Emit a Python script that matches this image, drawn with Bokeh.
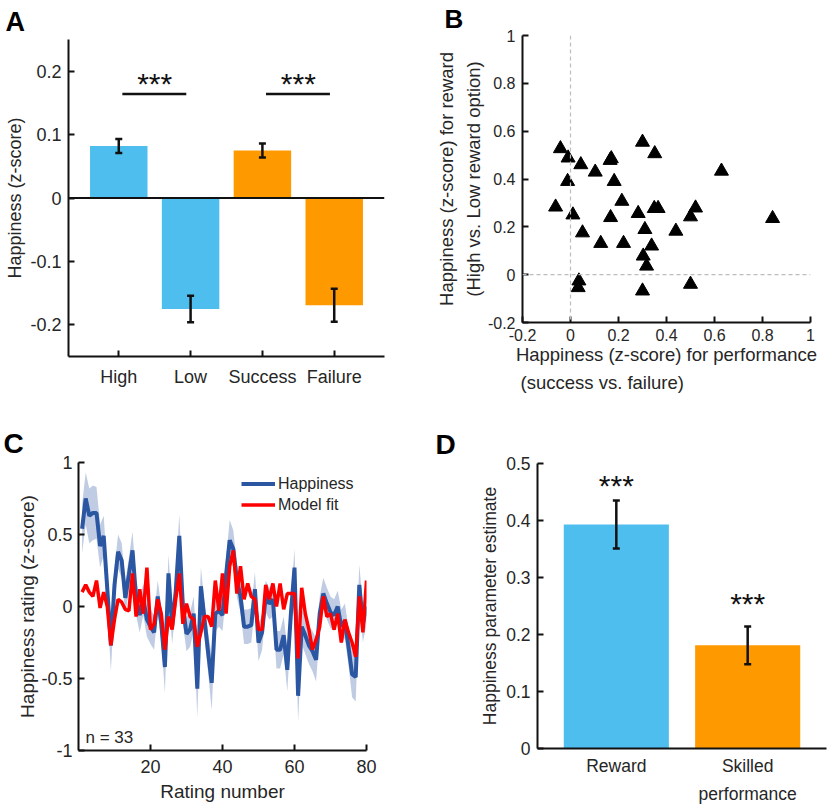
import math
from bokeh.plotting import figure
from bokeh.models import (Range1d, FixedTicker, CustomJSTickFormatter, Label, Span,
                          Whisker, TeeHead, ColumnDataSource)
from bokeh.layouts import column, row
from bokeh.embed import file_html
from bokeh.resources import INLINE
from bokeh.core.properties import value

FONT = "Liberation Sans"
TXT = "#262626"
AXC = "#111111"
BLUE = "#4DBEEE"
ORANGE = "#FF9900"

# ---------------- Panel A data ----------------
a_categories = ["High", "Low", "Success", "Failure"]
a_means = [0.082, -0.175, 0.075, -0.169]
a_sems = [0.011, 0.021, 0.011, 0.026]
a_colors = [BLUE, BLUE, ORANGE, ORANGE]
a_sig_pairs = [(1, 2), (3, 4)]
a_sig_y = 0.164
a_star_y = 0.181
a_yticks = [-0.2, -0.1, 0, 0.1, 0.2]

# ---------------- Panel B data ----------------
b_perf = [-0.042, -0.010, -0.012, -0.062, 0.010, 0.043, 0.050, 0.035, 0.032, 0.103,
          0.126, 0.165, 0.170, 0.182, 0.167, 0.214, 0.221, 0.282, 0.300, 0.310,
          0.303, 0.317, 0.300, 0.338, 0.351, 0.349, 0.365, 0.439, 0.500, 0.521,
          0.500, 0.629, 0.842]
b_reward = [0.527, 0.488, 0.390, 0.283, 0.250, 0.460, 0.175, -0.026, -0.054, 0.429,
            0.131, 0.478, 0.485, 0.390, 0.239, 0.307, 0.131, 0.256, 0.554, 0.189,
            0.078, 0.036, -0.068, 0.120, 0.506, 0.277, 0.277, 0.182, 0.242, 0.279,
            -0.040, 0.433, 0.235]
b_ticks = [-0.2, 0, 0.2, 0.4, 0.6, 0.8, 1]

# ---------------- Panel C data ----------------
c_rating = list(range(1, 81))
c_happiness = [0.54, 0.75, 0.63, 0.65, 0.65, 0.42, 0.49, 0.12, -0.27, 0.15,
               0.38, 0.32, 0.06, 0.22, 0.39, 0.06, -0.06, 0.05, -0.09, -0.14,
               -0.18, 0.07, -0.12, -0.42, 0.23, -0.14, 0.10, 0.49, 0.00, -0.19,
               -0.16, -0.05, -0.57, 0.14, -0.09, -0.32, -0.53, -0.05, -0.03, -0.06,
               0.22, 0.46, 0.40, 0.18, 0.07, -0.14, -0.14, -0.13, 0.12, -0.25,
               -0.18, 0.07, 0.02, 0.05, -0.30, -0.30, -0.20, -0.44, -0.05, 0.27,
               -0.62, -0.14, -0.20, -0.27, -0.31, -0.37, -0.05, 0.09, 0.02, -0.04,
               -0.06, 0.00, -0.14, -0.10, -0.28, -0.47, -0.49, 0.15, -0.12, 0.00]
c_sem = [0.17, 0.18, 0.19, 0.19, 0.18, 0.15, 0.14, 0.13, 0.18, 0.12,
         0.12, 0.12, 0.11, 0.12, 0.13, 0.12, 0.12, 0.11, 0.12, 0.12,
         0.12, 0.11, 0.12, 0.18, 0.13, 0.12, 0.12, 0.15, 0.12, 0.12,
         0.12, 0.12, 0.20, 0.13, 0.12, 0.14, 0.19, 0.12, 0.11, 0.11,
         0.12, 0.14, 0.13, 0.12, 0.11, 0.12, 0.12, 0.12, 0.12, 0.13,
         0.12, 0.11, 0.11, 0.12, 0.13, 0.13, 0.13, 0.15, 0.12, 0.13,
         0.18, 0.12, 0.13, 0.13, 0.14, 0.15, 0.12, 0.11, 0.11, 0.11,
         0.11, 0.11, 0.12, 0.12, 0.13, 0.16, 0.17, 0.14, 0.13, 0.12]
c_model = [0.10, 0.15, 0.10, 0.07, 0.18, -0.01, 0.10, 0.00, -0.27, -0.09,
           0.05, 0.03, -0.02, -0.03, 0.23, -0.07, 0.12, -0.05, 0.27, -0.16,
           -0.12, 0.05, -0.05, -0.30, -0.07, -0.16, 0.05, 0.23, -0.12, 0.02,
           -0.07, -0.09, -0.28, -0.18, -0.07, -0.07, -0.14, 0.18, -0.03, 0.23,
           -0.05, 0.28, 0.39, 0.09, 0.28, 0.05, 0.16, 0.07, 0.05, -0.16,
           -0.16, 0.15, 0.05, 0.16, 0.00, 0.16, -0.02, 0.09, 0.09, 0.09,
           -0.36, 0.13, -0.05, -0.16, -0.30, -0.23, -0.14, 0.07, -0.07, -0.05,
           -0.16, -0.05, -0.25, -0.09, -0.18, -0.25, -0.35, 0.07, -0.18, 0.18]
c_n = 33
c_xticks = [20, 40, 60, 80]
c_yticks = [-1, -0.5, 0, 0.5, 1]

# ---------------- Panel D data ----------------
d_categories = ["Reward", "Skilled\nperformance"]
d_means = [0.393, 0.181]
d_sems = [0.042, 0.033]
d_star_y = [0.462, 0.254]
d_yticks = [0, 0.1, 0.2, 0.3, 0.4, 0.5]

# ---------------- layout specs (page px) ----------------
SPEC_A = dict(fig=(0, 0, 415, 400), frame=(68, 39, 316, 317), xr=(0.3, 4.7), yr=(-0.25, 0.25))
SPEC_B = dict(fig=(415, 0, 415, 400), frame=(522, 34, 288, 288), xr=(-0.2, 1.0), yr=(-0.2, 1.0))
SPEC_C = dict(fig=(0, 400, 415, 407), frame=(78, 462, 288, 288), xr=(0, 80), yr=(-1, 1))
SPEC_D = dict(fig=(415, 400, 415, 407), frame=(537, 463, 289, 290), xr=(0.4, 2.6), yr=(0, 0.5))


def px2data(spec, sx, sy):
    L, T, FW, FH = spec["frame"]
    x0, x1 = spec["xr"]
    y0, y1 = spec["yr"]
    return x0 + (sx - L) / FW * (x1 - x0), y1 - (sy - T) / FH * (y1 - y0)


def make_fig(spec, letter, letter_left, letter_standoff, letter_size=27):
    ox, oy, W, H = spec["fig"]
    L, T, FW, FH = spec["frame"]
    p = figure(width=W, height=H, x_range=Range1d(*spec["xr"]), y_range=Range1d(*spec["yr"]),
               output_backend="svg", toolbar_location=None, tools="",
               min_border_left=L - ox, min_border_top=T - oy,
               min_border_right=ox + W - L - FW, min_border_bottom=oy + H - T - FH)
    try:
        p.frame_align = False
    except Exception:
        pass
    p.outline_line_color = None
    p.xgrid.visible = False
    p.ygrid.visible = False
    p.title.text = letter
    p.title.align = "left"
    p.title.offset = letter_left - L
    p.title.standoff = letter_standoff
    p.title.text_font = FONT
    p.title.text_font_size = f"{letter_size}px"
    p.title.text_font_style = "bold"
    p.title.text_color = "black"
    return p


NUMFMT = "return String(Math.round(tick*1000)/1000)"


def style_axis(ax, ticks, size, standoff, fmt=None, tick_len=6):
    ax.ticker = FixedTicker(ticks=ticks)
    ax.formatter = fmt if fmt is not None else CustomJSTickFormatter(code=NUMFMT)
    ax.axis_line_width = 2
    ax.axis_line_color = AXC
    ax.major_tick_in = tick_len
    ax.major_tick_out = 0
    ax.major_tick_line_width = 2
    ax.major_tick_line_color = AXC
    ax.minor_tick_line_color = None
    ax.major_label_text_font = FONT
    ax.major_label_text_font_size = f"{size}px"
    ax.major_label_text_color = TXT
    ax.major_label_standoff = standoff


def axis_title(ax, text, size, standoff, line_height=1.2):
    ax.axis_label = text
    ax.axis_label_text_font = FONT
    ax.axis_label_text_font_size = f"{size}px"
    ax.axis_label_text_font_style = "normal"
    ax.axis_label_text_color = TXT
    ax.axis_label_standoff = standoff
    ax.axis_label_text_line_height = line_height


def add_stars(p, xs, ys, size=30):
    p.text(x=xs, y=ys, text=["***"] * len(xs), text_font=value(FONT),
           text_font_size=value(f"{size}px"), text_align="center",
           text_baseline="middle", text_color=AXC)


def add_whiskers(p, xs, means, sems):
    src = ColumnDataSource(dict(x=xs, upper=[m + s for m, s in zip(means, sems)],
                                lower=[m - s for m, s in zip(means, sems)]))
    p.add_layout(Whisker(base="x", upper="upper", lower="lower", source=src, level="overlay",
                         line_width=2.5, line_color=AXC,
                         upper_head=TeeHead(size=7, line_width=2.5, line_color=AXC),
                         lower_head=TeeHead(size=7, line_width=2.5, line_color=AXC)))


# ================= Panel A =================
pA = make_fig(SPEC_A, "A", 5, 5, 27)
a_x = list(range(1, len(a_categories) + 1))
pA.vbar(x=a_x, top=a_means, bottom=0, width=0.8, fill_color=a_colors, line_color=None)
pA.add_layout(Span(location=0, dimension="width", line_color=AXC, line_width=2))
add_whiskers(pA, a_x, a_means, a_sems)
pA.segment(x0=[a + 0.05 for a, b in a_sig_pairs], x1=[b - 0.06 for a, b in a_sig_pairs],
           y0=[a_sig_y] * len(a_sig_pairs), y1=[a_sig_y] * len(a_sig_pairs),
           line_color=AXC, line_width=2.5)
add_stars(pA, [(a + b) / 2 for a, b in a_sig_pairs], [a_star_y] * len(a_sig_pairs))
style_axis(pA.xaxis[0], a_x, 18, 10,
           fmt=CustomJSTickFormatter(args=dict(labels=a_categories),
                                     code="return labels[Math.round(tick)-1] || ''"))
style_axis(pA.yaxis[0], a_yticks, 18, 7)
axis_title(pA.yaxis[0], "Happiness (z-score)", 18, 2)

# ================= Panel B =================
pB = make_fig(SPEC_B, "B", 444, 3, 26)
pB.add_layout(Span(location=0, dimension="height", line_color="#BDBDBD", line_width=1.2, line_dash="4 3"))
pB.add_layout(Span(location=0, dimension="width", line_color="#BDBDBD", line_width=1.2, line_dash="4 3"))
pB.scatter(x=b_perf, y=b_reward, marker="triangle", size=14, fill_color="black", line_color="black")
style_axis(pB.xaxis[0], b_ticks, 16, 6)
style_axis(pB.yaxis[0], b_ticks, 16, 7)
axis_title(pB.xaxis[0],
           "Happiness (z-score) for performance\n(success vs. failure)" + "\u00a0" * 25,
           18.5, 0, 1.35)
axis_title(pB.yaxis[0], "Happiness (z-score) for reward\n(High vs. Low reward option)", 18.5, 1, 1.26)

# ================= Panel C =================
pC = make_fig(SPEC_C, "C", 3, 7, 28)
c_lo = [m - s for m, s in zip(c_happiness, c_sem)]
c_hi = [m + s for m, s in zip(c_happiness, c_sem)]
pC.varea(x=c_rating, y1=c_lo, y2=c_hi, fill_color="#2A56A2", fill_alpha=0.3)
pC.line(x=c_rating, y=c_happiness, line_color="#2A56A2", line_width=4, legend_label="Happiness")
pC.line(x=c_rating, y=c_model, line_color="#FF0000", line_width=3.5, legend_label="Model fit")
lg = pC.legend[0]
lg.location = (163, 235)
lg.padding = 0
lg.margin = 0
lg.spacing = 0
lg.glyph_width = 34
lg.glyph_height = 21
lg.label_height = 21
lg.label_standoff = 3
lg.label_text_font = FONT
lg.label_text_font_size = "16px"
lg.label_text_color = TXT
lg.border_line_color = None
lg.background_fill_alpha = 0
style_axis(pC.xaxis[0], c_xticks, 18, 9)
style_axis(pC.yaxis[0], c_yticks, 18, 6)
axis_title(pC.xaxis[0], "Rating number", 19, 5)
axis_title(pC.yaxis[0], "Happiness rating (z-score)", 19, 0)
nx, ny = px2data(SPEC_C, 85, 737)
pC.add_layout(Label(x=nx, y=ny, text=f"n = {c_n}", text_align="left", text_baseline="middle",
                    text_font=FONT, text_font_size="17px", text_color=TXT))

# ================= Panel D =================
pD = make_fig(SPEC_D, "D", 435, 7, 28)
d_x = [1, 2]
pD.vbar(x=d_x, top=d_means, bottom=0, width=0.8, fill_color=[BLUE, ORANGE], line_color=None)
add_whiskers(pD, d_x, d_means, d_sems)
add_stars(pD, d_x, d_star_y)
style_axis(pD.xaxis[0], d_x, 17.5, 7, tick_len=0,
           fmt=CustomJSTickFormatter(args=dict(labels=d_categories),
                                     code="return labels[Math.round(tick)-1] || ''"))
pD.xaxis[0].major_label_text_line_height = 1.43
style_axis(pD.yaxis[0], d_yticks, 17.5, 7)
axis_title(pD.yaxis[0], "Happiness parameter estimate", 17.5, 3)

layout = column(row(pA, pB), row(pC, pD))
open("out.html", "w").write(file_html(layout, INLINE))
